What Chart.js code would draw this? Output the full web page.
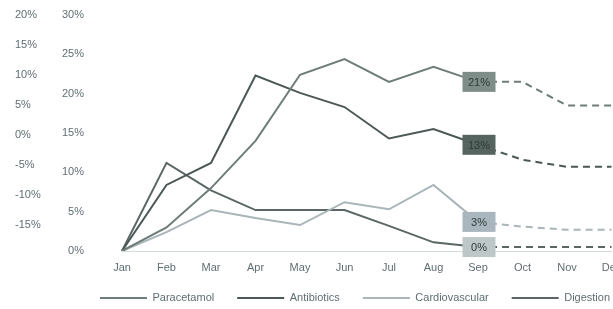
<!DOCTYPE html>
<html>
<head>
<meta charset="utf-8">
<script src="https://cdn.jsdelivr.net/npm/chart.js@4/dist/chart.umd.min.js"></script>
<style>
  html, body { margin: 0; padding: 0; background: #ffffff; overflow: hidden; }
  #wrap { width: 700px; height: 309px; }
</style>
</head>
<body>
<div id="wrap"><canvas id="c" width="700" height="309" style="width:700px;height:309px"></canvas></div>
<script>
// ---- data ----
const months = ['Jan','Feb','Mar','Apr','May','Jun','Jul','Aug','Sep','Oct','Nov','Dec'];
const innerTicks = [0, 5, 10, 15, 20, 25, 30];
const outerTicks = [20, 15, 10, 5, 0, -5, -10, -15];
const seriesNames = ['Paracetamol', 'Antibiotics', 'Cardiovascular', 'Digestion'];
const paracetamol    = [0, 3.0, 8.0, 14.0, 22.4, 24.4, 21.5, 23.4, 21.5, 21.5, 18.5, 18.5];
const antibiotics    = [0, 8.4, 11.2, 22.3, 20.1, 18.3, 14.3, 15.5, 13.5, 11.6, 10.7, 10.7];
const cardiovascular = [0, 2.4, 5.2, 4.2, 3.3, 6.2, 5.3, 8.4, 3.7, 3.1, 2.7, 2.7];
const digestion      = [0, 11.2, 7.7, 5.2, 5.2, 5.2, 3.2, 1.1, 0.5, 0.5, 0.5, 0.5];
const sepLabels = ['21%', '13%', '3%', '0%'];
const forecastFrom = 8; // Sep: dashed afterwards

// ---- styles ----
const lineColors = ['#6f7d7a', '#4c5857', '#a9b5b8', '#5b6766'];
const boxColors  = ['#7f8d88', '#56645f', '#a9b6bd', '#bec7c8'];
const textColor = '#5f6e73';
const fontFamily = "'Liberation Sans', Arial, sans-serif";

const allSeries = [paracetamol, antibiotics, cardiovascular, digestion];

const datasets = allSeries.map((vals, i) => ({
  label: seriesNames[i],
  data: vals,
  borderColor: lineColors[i],
  backgroundColor: lineColors[i],
  borderWidth: 2,
  pointRadius: 0,
  pointHoverRadius: 0,
  tension: 0,
  fill: false,
  yAxisID: 'y',
  segment: {
    borderDash: ctx => ctx.p0DataIndex >= forecastFrom ? [7, 5] : undefined
  }
}));

const sepBoxes = {
  id: 'sepBoxes',
  afterDatasetsDraw(chart) {
    const ctx = chart.ctx;
    ctx.save();
    chart.data.datasets.forEach((ds, i) => {
      const pt = chart.getDatasetMeta(i).data[forecastFrom];
      if (!pt) return;
      const w = 33, h = 20;
      const x = pt.x - w / 2 + 1, y = pt.y - h / 2;
      ctx.fillStyle = boxColors[i];
      ctx.fillRect(x, y, w, h);
      ctx.fillStyle = '#2f3b3a';
      ctx.font = '11px ' + fontFamily;
      ctx.textAlign = 'center';
      ctx.textBaseline = 'middle';
      ctx.fillText(sepLabels[i], x + w / 2, y + h / 2 + 1);
    });
    ctx.restore();
  }
};

// keep the legend's wide horizontal gaps but a compact height
const legendFit = {
  id: 'legendFit',
  beforeLayout(chart) {
    const lg = chart.legend;
    if (lg && !lg._patchedFit) {
      const orig = lg.fit.bind(lg);
      lg.fit = function () { orig(); this.height = 35; };
      lg._patchedFit = true;
    }
  },
  afterLayout(chart) {
    const lg = chart.legend;
    if (lg) { lg.top -= 4.5; lg.bottom -= 4.5; }
  }
};

new Chart(document.getElementById('c'), {
  type: 'line',
  data: { labels: months, datasets },
  plugins: [sepBoxes, legendFit],
  options: {
    responsive: false,
    animation: false,
    devicePixelRatio: 1,
    layout: { padding: { left: 15, right: 5, top: 15, bottom: 0 } },
    plugins: {
      tooltip: { enabled: false },
      legend: {
        position: 'bottom',
        labels: {
          usePointStyle: true,
          pointStyle: 'line',
          pointStyleWidth: 47,
          padding: 23,
          color: textColor,
          font: { family: fontFamily, size: 11 }
        }
      }
    },
    scales: {
      x: {
        grid: { display: false, drawTicks: false },
        border: { display: true, color: '#d3dada', dash: [2, 2], width: 1 },
        ticks: { color: textColor, font: { family: fontFamily, size: 11 }, padding: 10, maxRotation: 0, autoSkip: false },
        afterFit: s => { s.height = 23; }
      },
      yL: {
        position: 'left',
        weight: 10,
        min: -19.33,
        max: 20,
        grid: { display: false, drawTicks: false },
        border: { display: false },
        afterBuildTicks: s => { s.ticks = outerTicks.map(v => ({ value: v })); },
        ticks: { color: textColor, font: { family: fontFamily, size: 11 }, crossAlign: 'far', callback: v => v + '%' },
        afterFit: s => { s.width = 47; s.paddingTop = 6; s.paddingBottom = 6; }
      },
      y: {
        position: 'left',
        weight: 0,
        min: 0,
        max: 30,
        grid: { display: false, drawTicks: false },
        border: { display: false },
        afterBuildTicks: s => { s.ticks = innerTicks.map(v => ({ value: v })); },
        ticks: { color: textColor, font: { family: fontFamily, size: 11 }, padding: 38, callback: v => v + '%' },
        afterFit: s => { s.width = 60; s.paddingTop = 6; s.paddingBottom = 6; }
      },
      yR: {
        position: 'right',
        grid: { display: false, drawTicks: false },
        border: { display: false },
        ticks: { display: false },
        afterFit: s => { s.width = 83.5; s.paddingTop = 0; s.paddingBottom = 0; }
      }
    }
  }
});
</script>
</body>
</html>
